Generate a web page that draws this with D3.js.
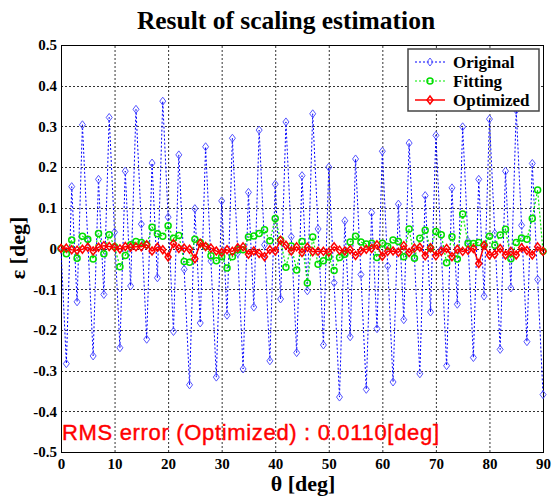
<!DOCTYPE html>
<html>
<head>
<meta charset="utf-8">
<script src="https://cdn.jsdelivr.net/npm/d3@7"></script>
<style>
  body { margin: 0; background: #fff; }
</style>
</head>
<body>
<div class="SP"></div>
<script>

// Theta values, one sample per degree
var theta = d3.range(0, 91);

// Original error
var original = [
  0.0, -0.283, 0.152, -0.131, 0.304, 0.02, -0.264, 0.17, -0.113, 0.322,
  0.04, -0.244, 0.19, -0.092, 0.342, 0.06, -0.223, 0.21, -0.072, 0.362,
  0.077, -0.204, 0.23, -0.051, -0.335, 0.098, -0.183, 0.25, -0.031, -0.316,
  0.117, -0.164, 0.271, -0.011, -0.296, 0.138, -0.144, 0.291, 0.009, -0.276,
  0.158, -0.124, 0.311, 0.029, -0.256, 0.179, -0.104, 0.331, 0.048, -0.237,
  0.2, -0.084, -0.365, 0.068, -0.217, 0.22, -0.064, -0.346, 0.088, -0.197,
  0.239, -0.043, -0.328, 0.109, -0.175, 0.259, -0.022, -0.308, 0.13, -0.156,
  0.278, -0.002, -0.288, 0.149, -0.137, 0.299, 0.018, -0.268, 0.17, -0.117,
  0.318, 0.037, -0.248, 0.19, -0.097, 0.34, 0.057, -0.229, 0.209, -0.076,
  -0.359
];

// Fitting error
var fitting = [
  0.0, -0.013, 0.021, -0.024, 0.03, 0.023, -0.026, 0.037, -0.013, 0.034,
  0.004, -0.045, -0.017, 0.009, 0.017, 0.015, 0.009, 0.052, 0.036, 0.03,
  0.056, 0.025, 0.032, -0.032, -0.034, 0.023, 0.015, 0.005, -0.018, -0.03,
  -0.02, -0.048, -0.02, -0.003, -0.003, 0.028, 0.031, 0.037, 0.046, 0.019,
  0.074, 0.021, -0.046, 0.006, -0.053, 0.017, -0.085, 0.028, -0.039, -0.03,
  -0.021, -0.054, -0.022, -0.014, 0.016, 0.03, 0.016, 0.011, 0.013, -0.022,
  0.013, 0.005, 0.021, 0.017, -0.02, 0.048, -0.024, 0.025, 0.045, 0.0,
  0.042, 0.034, -0.035, 0.029, -0.026, 0.085, 0.012, 0.012, 0.015, 0.008,
  0.03, 0.008, 0.033, 0.047, -0.025, 0.015, 0.026, 0.023, 0.074, 0.144,
  -0.007
];

// Optimized error
var optimized = [
  0.0, 0.001, -0.003, -0.004, -0.002, 0.003, -0.006, 0.003, 0.007, 0.005,
  0.003, -0.001, 0.005, 0.003, 0.004, 0.004, 0.009, -0.006, 0.003, -0.003,
  -0.021, 0.012, 0.0, 0.001, -0.002, -0.025, 0.013, 0.005, 0.001, -0.006,
  -0.01, -0.003, -0.007, 0.002, 0.004, -0.014, -0.006, -0.012, -0.02, -0.003,
  -0.006, 0.02, 0.008, -0.006, 0.004, -0.01, 0.003, -0.008, -0.007, -0.007,
  -0.009, 0.004, -0.004, -0.006, -0.003, -0.017, -0.006, -0.002, 0.0, 0.009,
  -0.019, -0.007, -0.006, -0.009, 0.007, -0.01, 0.001, 0.003, -0.018, 0.002,
  -0.018, -0.007, 0.0, -0.02, -0.002, -0.007, -0.004, 0.0, -0.037, 0.008,
  -0.016, -0.014, 0.0, -0.016, -0.007, -0.016, 0.002, -0.005, -0.016, 0.004,
  -0.007
];

// Tick values and labels
var xTicks = [0, 10, 20, 30, 40, 50, 60, 70, 80, 90];
var yTicks = [-0.5, -0.4, -0.3, -0.2, -0.1, 0, 0.1, 0.2, 0.3, 0.4, 0.5];
var yTickLabels = ["-0.5", "-0.4", "-0.3", "-0.2", "-0.1", "0", "0.1", "0.2", "0.3", "0.4", "0.5"];

var seriesNames = ["Original", "Fitting", "Optimized"];

var W = 552, H = 498;
var margin = {left: 61, right: 9, top: 45, bottom: 46};
var serif = "'Liberation Serif', 'Times New Roman', serif";

var svg = d3.select("div.SP")
  .append("svg")
  .attr("width", W)
  .attr("height", H);

var xScale = d3.scaleLinear().domain([0, 90]).range([margin.left, W - margin.right]);
var yScale = d3.scaleLinear().domain([-0.5, 0.5]).range([H - margin.bottom, margin.top]);

// grid lines
svg.append("g")
  .selectAll("line")
  .data(xTicks.slice(1, -1))
  .enter().append("line")
  .attr("x1", d => xScale(d) + 0.5).attr("x2", d => xScale(d) + 0.5)
  .attr("y1", yScale(-0.5)).attr("y2", yScale(0.5))
  .attr("stroke", "#333").attr("stroke-dasharray", "2,2");

svg.append("g")
  .selectAll("line")
  .data(yTicks.slice(1, -1))
  .enter().append("line")
  .attr("y1", d => Math.round(yScale(d)) + 0.5).attr("y2", d => Math.round(yScale(d)) + 0.5)
  .attr("x1", xScale(0)).attr("x2", xScale(90))
  .attr("stroke", "#333").attr("stroke-dasharray", "2,2");

// axes
var xAxis = d3.axisBottom(xScale).tickValues(xTicks).tickSize(0).tickPadding(6);
var yAxis = d3.axisLeft(yScale).tickValues(yTicks).tickSize(0).tickPadding(4)
  .tickFormat((d, i) => yTickLabels[i]);

var gx = svg.append("g")
  .attr("transform", "translate(0," + yScale(-0.5) + ")")
  .call(xAxis);
var gy = svg.append("g")
  .attr("transform", "translate(" + xScale(0) + ",0)")
  .call(yAxis);

[gx, gy].forEach(function(g) {
  g.select(".domain").remove();
  g.selectAll("text")
    .attr("fill", "#000")
    .style("font-family", serif)
    .style("font-weight", "bold")
    .style("font-size", "15px");
});

// plot frame
svg.append("rect")
  .attr("x", xScale(0) + 0.5).attr("y", yScale(0.5) + 0.5)
  .attr("width", xScale(90) - xScale(0)).attr("height", yScale(-0.5) - yScale(0.5))
  .attr("fill", "none").attr("stroke", "#000").attr("stroke-width", 1);

var line = d3.line()
  .x((d, i) => xScale(theta[i]))
  .y(d => yScale(d));

function diamond(sel, rx, ry) {
  return sel.attr("d", "M0," + (-ry) + "L" + rx + ",0L0," + ry + "L" + (-rx) + ",0Z");
}

// Original
svg.append("path").datum(original)
  .attr("d", line).attr("fill", "none")
  .attr("stroke", "#0000ff").attr("stroke-width", 1).attr("stroke-dasharray", "2,2");
svg.append("g").selectAll("path")
  .data(original).enter().append("path")
  .attr("transform", (d, i) => "translate(" + xScale(theta[i]) + "," + yScale(d) + ")")
  .call(diamond, 3, 4)
  .attr("fill", "none").attr("stroke", "#5555ff").attr("stroke-width", 1);

// Fitting
svg.append("path").datum(fitting)
  .attr("d", line).attr("fill", "none")
  .attr("stroke", "#00ee00").attr("stroke-width", 1.2).attr("stroke-dasharray", "2,2");
svg.append("g").selectAll("circle")
  .data(fitting).enter().append("circle")
  .attr("cx", (d, i) => xScale(theta[i]))
  .attr("cy", d => yScale(d))
  .attr("r", 3)
  .attr("fill", "none").attr("stroke", "#00dd00").attr("stroke-width", 1.5);

// Optimized
svg.append("path").datum(optimized)
  .attr("d", line).attr("fill", "none")
  .attr("stroke", "#ff0000").attr("stroke-width", 1.5);
svg.append("g").selectAll("path")
  .data(optimized).enter().append("path")
  .attr("transform", (d, i) => "translate(" + xScale(theta[i]) + "," + yScale(d) + ")")
  .call(diamond, 3, 4)
  .attr("fill", "none").attr("stroke", "#ff0000").attr("stroke-width", 1.5);

// legend
var lg = svg.append("g").attr("transform", "translate(408,49)");
lg.append("rect")
  .attr("width", 131).attr("height", 62)
  .attr("fill", "#fff").attr("stroke", "#444").attr("stroke-width", 1.5);

var legendStyle = [
  {stroke: "#0000ff", dash: "2,2", w: 1, marker: "diamond", mcol: "#5555ff"},
  {stroke: "#00ee00", dash: "2,2", w: 1.2, marker: "circle", mcol: "#00dd00"},
  {stroke: "#ff0000", dash: null, w: 1.5, marker: "diamond", mcol: "#ff0000"}
];

seriesNames.forEach(function(name, i) {
  var s = legendStyle[i];
  var yy = 13 + i * 19;
  lg.append("line")
    .attr("x1", 7).attr("x2", 37).attr("y1", yy).attr("y2", yy)
    .attr("stroke", s.stroke).attr("stroke-width", s.w)
    .attr("stroke-dasharray", s.dash);
  if (s.marker == "circle") {
    lg.append("circle").attr("cx", 22).attr("cy", yy).attr("r", 3)
      .attr("fill", "none").attr("stroke", s.mcol).attr("stroke-width", 1.5);
  } else {
    lg.append("path").attr("transform", "translate(22," + yy + ")")
      .call(diamond, 3, 4)
      .attr("fill", "none").attr("stroke", s.mcol).attr("stroke-width", i == 2 ? 1.5 : 1);
  }
  lg.append("text")
    .attr("x", 45).attr("y", yy + 6)
    .style("font-family", serif).style("font-weight", "bold").style("font-size", "17px")
    .text(name);
});

// title
svg.append("text")
  .attr("x", 286).attr("y", 29)
  .attr("text-anchor", "middle")
  .style("font-family", serif).style("font-weight", "bold").style("font-size", "25.5px")
  .text("Result of scaling estimation");

// axis labels
svg.append("text")
  .attr("x", 303).attr("y", 491)
  .attr("text-anchor", "middle")
  .style("font-family", serif).style("font-weight", "bold").style("font-size", "22px")
  .text("θ [deg]");

svg.append("text")
  .attr("transform", "translate(25,248) rotate(-90)")
  .attr("text-anchor", "middle")
  .style("font-family", serif).style("font-weight", "bold").style("font-size", "22px")
  .text("ε [deg]");

// RMS annotation
svg.append("text")
  .attr("x", 62).attr("y", 440)
  .attr("fill", "#ff0000")
  .attr("stroke", "#ff0000").attr("stroke-width", 0.4)
  .attr("textLength", 377).attr("lengthAdjust", "spacing")
  .style("font-family", "'Liberation Sans', Arial, sans-serif")
  .style("font-size", "22px")
  .text("RMS error (Optimized) : 0.0110[deg]");

</script>
</body>
</html>
